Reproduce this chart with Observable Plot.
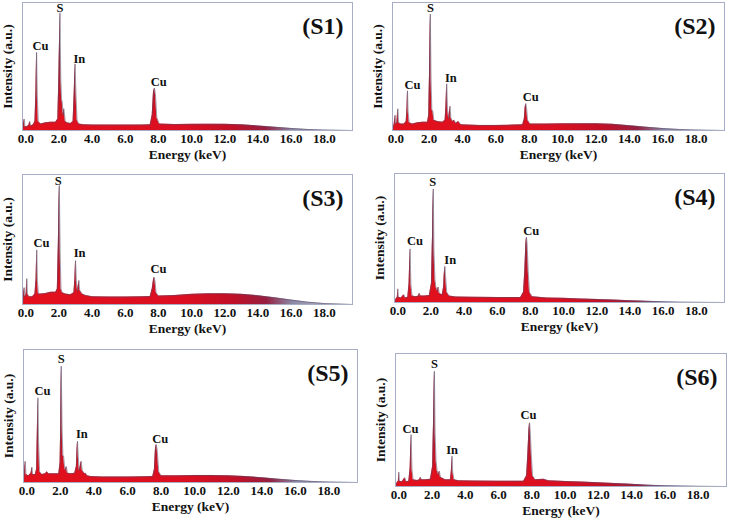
<!DOCTYPE html>
<html><head><meta charset="utf-8">
<script src="https://cdn.jsdelivr.net/npm/d3@7"></script>
<script src="https://cdn.jsdelivr.net/npm/@observablehq/plot@0.6"></script>
<style>
html,body{margin:0;padding:0;background:#fff}
#root{position:relative;width:729px;height:519px;overflow:hidden;background:#fff}
.panel{position:absolute}
</style></head><body>
<div id="root"></div>
<script>
// ---------- data ----------
const tickValues = [0, 2, 4, 6, 8, 10, 12, 14, 16, 18];
const tickLabels = ["0.0","2.0","4.0","6.0","8.0","10.0","12.0","14.0","16.0","18.0"];
const panelNames = ["(S1)","(S2)","(S3)","(S4)","(S5)","(S6)"];
const peakNames = ["Cu","S","In","Cu"];

// [energy keV, intensity a.u.]
const s1 = [[-0.2,0],[-0.15,4],[-0.1,9],[-0.05,3],[0.05,3],[0.18,4],[0.24,7],[0.3,3.5],[0.45,4.5],[0.55,7],[0.61,30],[0.65,61],[0.69,28],[0.75,7],[0.9,5],[1.2,6],[1.5,6.5],[1.8,6.5],[1.93,9],[2.0,45],[2.06,92],[2.11,40],[2.16,24],[2.2,22],[2.25,12],[2.29,17],[2.33,13],[2.38,7],[2.5,6],[2.7,5.5],[2.85,7],[2.92,30],[2.97,52],[3.02,30],[3.09,8],[3.2,5],[3.5,4.5],[4,4.3],[5,4.2],[6,4.2],[7,4.3],[7.5,4.5],[7.62,12],[7.7,30],[7.76,33],[7.82,28],[7.9,10],[8.05,5],[9,4.6],[10,4.8],[11,4.9],[12,4.8],[13,4.4],[14,3.6],[15,2.6],[16,1.6],[17,0.8],[18,0.3],[19.7,0]];
const s2 = [[-0.2,0],[-0.1,5],[-0.04,12],[0.0,5],[0.06,6],[0.12,17],[0.17,6],[0.3,5],[0.5,5],[0.62,7],[0.67,18],[0.7,31],[0.73,16],[0.8,6],[1.0,5],[1.3,6],[1.6,6.5],[1.9,6.5],[1.97,12],[2.02,45],[2.07,91],[2.11,40],[2.16,16],[2.22,15],[2.28,8],[2.5,7],[2.8,6.5],[2.95,8],[3.0,18],[3.05,36.5],[3.1,16],[3.17,9],[3.21,14],[3.25,19],[3.3,10],[3.4,7],[3.5,8],[3.6,5.5],[3.75,7],[3.9,4.5],[5,4],[6,4],[7,4.2],[7.6,4.5],[7.7,9],[7.75,18],[7.79,21],[7.84,17],[7.9,8],[8.05,5],[9,5],[10,5.2],[11,5.3],[12,5.3],[13,4.8],[14,3.8],[15,2.6],[16,1.5],[17,0.8],[18,0.3],[19.7,0]];
const s3 = [[-0.2,0],[-0.15,6],[-0.1,13],[-0.05,6],[0.02,8],[0.06,20],[0.1,8],[0.2,6],[0.4,6],[0.55,8],[0.62,20],[0.66,42],[0.7,18],[0.76,8],[0.9,8],[1.2,8.5],[1.5,9.5],[1.8,9.5],[1.9,12],[1.96,45],[2.02,91.5],[2.07,40],[2.12,12],[2.2,9],[2.4,8],[2.7,7.5],[2.9,9],[2.96,20],[3.0,33.8],[3.05,18],[3.12,10],[3.17,15],[3.2,18.5],[3.25,11],[3.4,8],[3.6,7],[4,6],[5,5.8],[6,5.8],[7,6],[7.5,6.2],[7.62,12],[7.7,19],[7.74,21],[7.79,18],[7.86,9],[8,6.5],[9,7],[10,7.8],[11,8.3],[12,8.3],[13,7.8],[14,6.8],[15,5.2],[16,3.4],[17,1.8],[18,0.7],[19.7,0]];
const s4 = [[-0.2,0],[-0.1,3],[-0.03,4],[0,10.6],[0.04,4],[0.2,3.5],[0.36,6],[0.45,3.5],[0.6,4],[0.68,15],[0.74,41.6],[0.79,14],[0.86,5],[1.1,4.5],[1.25,5],[1.3,7.2],[1.36,5],[1.6,5],[1.9,5.5],[2.03,15],[2.09,50],[2.14,88],[2.18,40],[2.24,18],[2.3,12],[2.38,9],[2.44,12],[2.5,7],[2.68,6],[2.76,12],[2.8,22],[2.84,28],[2.88,20],[2.95,8],[3.1,5],[3.5,4.3],[4.5,4.1],[6,3.9],[7.4,3.8],[7.58,8],[7.66,25],[7.72,45],[7.76,50.6],[7.8,45],[7.86,25],[7.94,8],[8.1,4.5],[9,3.5],[10,3.2],[11,2.8],[12,2.4],[13,1.9],[14,1.4],[15,0.9],[16,0.5],[17,0.25],[18,0.1],[19.7,0]];
const s5 = [[-0.2,0],[-0.15,6],[-0.1,16],[-0.05,6],[0.1,5],[0.25,7],[0.3,11.5],[0.35,6],[0.5,6],[0.58,10],[0.62,35],[0.66,63.7],[0.7,30],[0.76,8],[0.9,6],[1.1,6.5],[1.2,8],[1.3,6.5],[1.6,6.5],[1.9,6.5],[1.98,15],[2.02,45],[2.05,87.5],[2.1,40],[2.15,20],[2.19,19.8],[2.25,11],[2.3,9],[2.35,12],[2.42,7],[2.6,6.5],[2.85,7],[2.95,12],[2.99,25],[3.02,31],[3.06,20],[3.12,9],[3.18,12],[3.24,16],[3.3,9],[3.45,6.5],[3.5,7],[3.6,5],[3.8,4.5],[4.5,4.2],[6,4.2],[7,4.4],[7.5,4.6],[7.6,10],[7.66,25],[7.71,28.6],[7.77,24],[7.86,8],[8,5],[9,5],[10,5.3],[11,5.3],[12,5],[13,4.5],[14,3.6],[15,2.5],[16,1.5],[17,0.8],[18,0.3],[19.7,0]];
const s6 = [[-0.2,0],[-0.1,3],[-0.03,4],[0,10.8],[0.04,4],[0.2,3.5],[0.36,6.5],[0.45,3.5],[0.6,4],[0.68,14],[0.74,39],[0.79,13],[0.86,5],[1.1,4.5],[1.25,5],[1.3,7],[1.36,5],[1.6,5],[1.9,5.5],[2.03,15],[2.09,50],[2.14,86.7],[2.18,40],[2.24,19],[2.3,12],[2.38,9],[2.44,11.5],[2.5,7],[2.8,5],[3.1,5],[3.16,12],[3.2,22.8],[3.24,11],[3.32,5],[3.6,4.3],[4.5,4.1],[6,4],[7.5,4],[7.68,8],[7.76,25],[7.82,42],[7.86,47.9],[7.9,42],[7.96,25],[8.04,8],[8.2,5],[8.7,5.5],[9,4.3],[10,3.8],[11,3.3],[12,2.8],[13,2.2],[14,1.6],[15,1],[16,0.6],[17,0.3],[18,0.1],[19.7,0]];

// peak label anchor points [energy, intensity], in order of peakNames
const s1Labels = [[0.89,66],[2.06,96],[3.23,56],[8.02,37.7]];
const s2Labels = [[1.0,35.7],[2.07,96],[3.3,41],[8.09,26.5]];
const s3Labels = [[0.94,47],[1.96,95],[3.24,39.5],[8.0,27]];
const s4Labels = [[1.04,48],[2.1,93.3],[3.16,33],[8.04,55.3]];
const s5Labels = [[0.93,68.7],[2.05,92.5],[3.28,36.6],[7.95,33]];
const s6Labels = [[0.7,43.4],[2.14,92],[3.2,27.8],[7.8,53.6]];

const spectra = [s1, s2, s3, s4, s5, s6];
const labelSets = [s1Labels, s2Labels, s3Labels, s4Labels, s5Labels, s6Labels];

// ---------- layout (frame left, frame top, frame width, frame height) ----------
const layout = [[22,2,330,128],[392,2,332,128],[22,174,330,130],[394,173,330,129],[23,349,334,133],[395,353,331,133]];
const mL = 26, mR = 6, mT = 2, mB = 36;
const FONT = '"Liberation Serif", "Times New Roman", serif';

const root = document.getElementById("root");

spectra.forEach((data, k) => {
  const [fx, fy, fw, fh] = layout[k];
  const hid = "hgrad" + k, vid = "vgrad" + k;
  const defs = () => {
    const ns = "http://www.w3.org/2000/svg";
    const d = document.createElementNS(ns, "defs");
    d.innerHTML = `
      <linearGradient id="${hid}" x1="0" y1="0" x2="1" y2="0">
        <stop offset="0" stop-color="#e3101c"/>
        <stop offset="0.5" stop-color="#da0f21"/>
        <stop offset="0.64" stop-color="#c01027"/>
        <stop offset="0.74" stop-color="#962040"/>
        <stop offset="0.82" stop-color="#8a8aa6"/>
        <stop offset="1" stop-color="#c5cad6"/>
      </linearGradient>
      <linearGradient id="${vid}" x1="0" y1="0" x2="0" y2="1">
        <stop offset="0" stop-color="#5e6680" stop-opacity="0.9"/>
        <stop offset="0.4" stop-color="#5a3650" stop-opacity="0.55"/>
        <stop offset="0.78" stop-color="#6a1a30" stop-opacity="0.15"/>
        <stop offset="0.9" stop-color="#6a1a30" stop-opacity="0"/>
      </linearGradient>`;
    return d;
  };
  const chart = Plot.plot({
    width: fw + mL + mR,
    height: fh + mT + mB,
    marginLeft: mL, marginRight: mR, marginTop: mT, marginBottom: mB,
    style: {fontFamily: FONT, fontWeight: "bold", color: "#111", background: "transparent", overflow: "visible"},
    x: {domain: [-0.2, 19.7], axis: null},
    y: {domain: [0, 100], axis: null},
    marks: [
      defs,
      Plot.areaY(data, {x: d => d[0], y: d => d[1], fill: `url(#${hid})`, curve: "linear"}),
      Plot.areaY(data, {x: d => d[0], y: d => d[1], fill: `url(#${vid})`, curve: "linear"}),
      Plot.line(data, {x: d => d[0], y: d => d[1], stroke: "#5e4a66", strokeWidth: 0.7, strokeOpacity: 0.8, curve: "linear"}),
      Plot.frame({stroke: "#a8adc6", strokeWidth: 1}),
      Plot.axisX({ticks: tickValues, tickFormat: d => tickLabels[tickValues.indexOf(d)], tickSize: 0, tickPadding: 3, fontSize: 13, fontWeight: "bold", fill: "#111", label: null}),
      Plot.text(["Energy (keV)"], {text: d => d, frameAnchor: "bottom", lineAnchor: "top", dy: 19, fontSize: 13.5, fontWeight: "bold", fill: "#111"}),
      Plot.text(["Intensity (a.u.)"], {text: d => d, frameAnchor: "left", rotate: -90, dx: -15, textAnchor: "middle", lineAnchor: "middle", fontSize: 13.5, fontWeight: "bold", fill: "#111"}),
      Plot.text([panelNames[k]], {text: d => d, frameAnchor: "top-right", textAnchor: "end", lineAnchor: "top", dx: -9, dy: 14, fontSize: 24, fontWeight: "bold", fill: "#111"}),
      Plot.text(labelSets[k], {x: d => d[0], y: d => d[1], text: (d, i) => peakNames[i], fontSize: 12.5, fontWeight: "bold", fill: "#111", lineAnchor: "middle"})
    ]
  });
  chart.classList.add("panel");
  chart.style.left = (fx - mL) + "px";
  chart.style.top = (fy - mT) + "px";
  root.appendChild(chart);
});
</script>
</body></html>
